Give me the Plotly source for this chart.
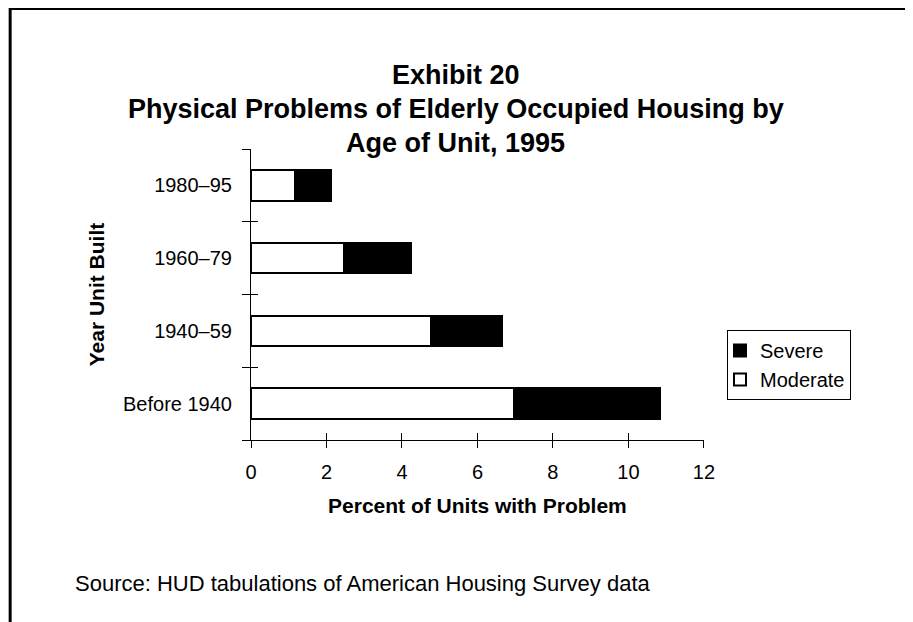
import plotly.graph_objects as go

categories = ["Before 1940", "1940\u201359", "1960\u201379", "1980\u201395"]
moderate = [6.97, 4.77, 2.46, 1.17]
severe = [3.88, 1.87, 1.77, 0.96]
x_ticks = [0, 2, 4, 6, 8, 10, 12]
title_lines = ["Exhibit 20", "Physical Problems of Elderly Occupied Housing by", "Age of Unit, 1995"]

FONT = "Liberation Sans, Arial, sans-serif"
ypos = list(range(len(categories)))
bounds = [i - 0.5 for i in range(len(categories) + 1)]

W, H = 905, 614
L, R, T, B = 243, 206, 141, 182
PW, PH = W - L - R, H - T - B


def px(xf):
    return (xf - L) / PW


def py(yf):
    return (H - B - yf) / PH


fig = go.Figure()
fig.add_trace(go.Bar(y=ypos, x=moderate, orientation="h", name="Moderate", legendgroup="m",
                     legendrank=2,
                     marker=dict(color="white", line=dict(color="black", width=2)), width=0.42))
fig.add_trace(go.Bar(y=ypos, x=severe, orientation="h", name="Severe", legendgroup="s",
                     legendrank=1,
                     marker=dict(color="black", line=dict(color="black", width=2)), width=0.42))
fig.add_trace(go.Scatter(x=[0], y=[0], xaxis="x2", yaxis="y2", mode="markers",
                         marker=dict(opacity=0), showlegend=False, hoverinfo="skip"))
fig.add_trace(go.Scatter(x=[0], y=[0], yaxis="y3", mode="markers",
                         marker=dict(opacity=0), showlegend=False, hoverinfo="skip"))

fig.update_layout(
    barmode="stack",
    width=W, height=H,
    margin=dict(l=L, r=R, t=T, b=B),
    paper_bgcolor="white", plot_bgcolor="white",
    font=dict(family=FONT, color="black", size=20),
    xaxis=dict(range=[0, 12], tickvals=x_ticks, showgrid=False, zeroline=False,
               showline=True, linecolor="black", linewidth=1,
               ticks="outside", ticklen=7, tickcolor="black", tickwidth=1,
               tickfont=dict(size=20), ticklabelstandoff=7,
               title=dict(text="<b>Percent of Units with Problem</b>", font=dict(size=21), standoff=16)),
    yaxis=dict(range=[-0.5, len(categories) - 0.5], tickvals=ypos, ticktext=categories,
               showgrid=False, zeroline=False, showline=True, linecolor="black", linewidth=1,
               ticks="", tickfont=dict(size=20), ticklabelstandoff=14,
               title=dict(text="<b>Year Unit Built</b>", font=dict(size=21), standoff=12)),
    xaxis2=dict(overlaying="x", range=[0, 12], tickvals=x_ticks, showticklabels=False,
                ticks="inside", ticklen=7, tickcolor="black", tickwidth=1,
                showgrid=False, zeroline=False, showline=False, anchor="y2"),
    yaxis2=dict(overlaying="y", range=[-0.5, len(categories) - 0.5], tickvals=bounds,
                showticklabels=False, ticks="outside", ticklen=8, tickcolor="black",
                tickwidth=1, showgrid=False, zeroline=False, showline=False, anchor="x2"),
    yaxis3=dict(overlaying="y", range=[-0.5, len(categories) - 0.5], tickvals=bounds,
                showticklabels=False, ticks="inside", ticklen=7, tickcolor="black",
                tickwidth=1, showgrid=False, zeroline=False, showline=False, anchor="x"),
    legend=dict(x=719 / W, xref="container", y=1 - 322 / H, yref="container",
                xanchor="left", yanchor="top", traceorder="normal",
                bordercolor="black", borderwidth=1, bgcolor="white",
                font=dict(size=20), itemwidth=30, indentation=-8),
    showlegend=True,
)

ys = [67, 101, 135]
for t, yy in zip(title_lines, ys):
    fig.add_annotation(text="<b>" + t + "</b>", xref="paper", yref="paper",
                       x=px(449), y=py(yy), showarrow=False,
                       xanchor="center", yanchor="middle", font=dict(size=27, family=FONT))

fig.add_annotation(text="Source: HUD tabulations of American Housing Survey data",
                   xref="paper", yref="paper", x=px(64), y=py(575),
                   xanchor="left", yanchor="middle", showarrow=False, font=dict(size=22, family=FONT))

fig.add_shape(type="rect", xref="paper", yref="paper",
              x0=px(0.5), x1=3, y0=-3, y1=py(0.5),
              line=dict(color="black", width=3), fillcolor="rgba(0,0,0,0)", layer="below")

fig.write_html("out.html")
